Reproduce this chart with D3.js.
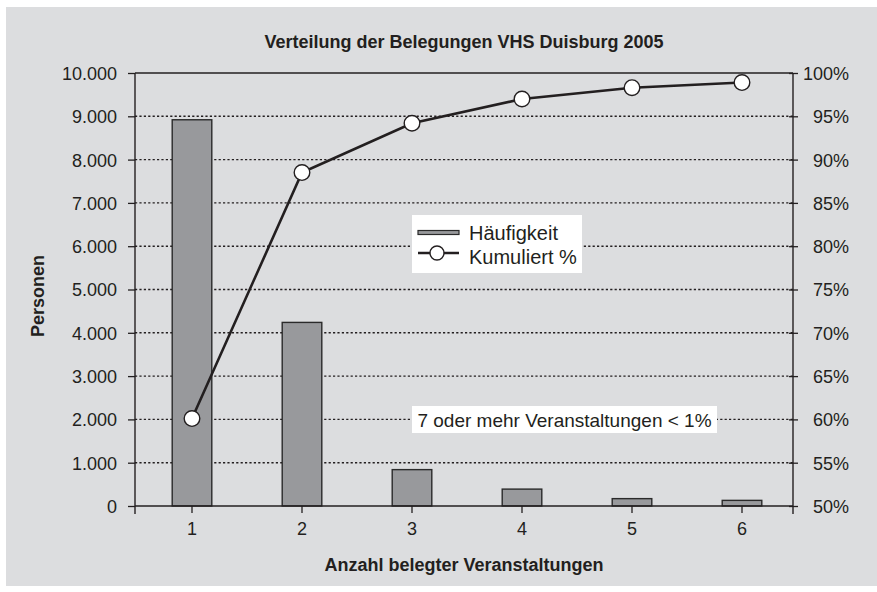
<!DOCTYPE html>
<html><head><meta charset="utf-8">
<script src="https://cdn.jsdelivr.net/npm/d3@7"></script>
<style>
html,body{margin:0;padding:0;background:#fff;}
svg text{font-family:"Liberation Sans Narrow","Arial Narrow","Liberation Sans",sans-serif;fill:#231f20;}
</style></head>
<body><svg id="c" width="877" height="592"></svg>
<script>
const title = "Verteilung der Belegungen VHS Duisburg 2005";
const categories = ["1","2","3","4","5","6"];
const haeufigkeit = [8920, 4240, 840, 390, 170, 130];
const kumuliert = [60.1, 88.5, 94.2, 97.0, 98.3, 98.9];
const leftTicks = [0,1000,2000,3000,4000,5000,6000,7000,8000,9000,10000];
const rightTicks = [50,55,60,65,70,75,80,85,90,95,100];
const seriesNames = ["Häufigkeit","Kumuliert %"];
const note = "7 oder mehr Veranstaltungen < 1%";
const xTitle = "Anzahl belegter Veranstaltungen";
const yTitle = "Personen";

const de = d3.formatLocale({decimal:",", thousands:".", grouping:[3], currency:["","€"]});
const fmt = de.format(",");

const svg = d3.select("#c");
const L = 135, R = 793, T = 73, B = 506;
const dark = "#231f20";

svg.append("rect").attr("x",6).attr("y",7).attr("width",871).attr("height",579).attr("fill","#dcdddf");

const x = d3.scaleBand().domain(categories).range([137,797]).paddingInner(0.64).paddingOuter(0.32);
const yL = d3.scaleLinear().domain([0,10000]).range([B,T]);
const yR = d3.scaleLinear().domain([50,100]).range([B,T]);

// gridlines
svg.append("g").selectAll("line").data(leftTicks.filter(d=>d>0 && d<10000)).join("line")
  .attr("x1",L).attr("x2",R).attr("y1",d=>yL(d)).attr("y2",d=>yL(d))
  .attr("stroke",dark).attr("stroke-width",1.4).attr("stroke-dasharray","2.2,2.2");
// top frame line
svg.append("line").attr("x1",L).attr("x2",R).attr("y1",T).attr("y2",T).attr("stroke",dark).attr("stroke-width",1.3);

// legend and note boxes (over gridlines)
svg.append("rect").attr("x",412).attr("y",215).attr("width",170).attr("height",58).attr("fill","#fff");
const noteG = svg.append("g");
noteG.append("rect").attr("x",412).attr("y",406).attr("width",305).attr("height",27).attr("fill","#fff");
noteG.append("text").attr("x",564.5).attr("y",427).attr("text-anchor","middle").attr("font-size",19).text(note);

// bars
svg.append("g").selectAll("rect").data(haeufigkeit).join("rect")
  .attr("x",(d,i)=>x(categories[i])).attr("width",x.bandwidth())
  .attr("y",d=>yL(d)).attr("height",d=>B-yL(d))
  .attr("fill","#98999c").attr("stroke","#2a2a2a").attr("stroke-width",1.4);

// left axis
const ay = d3.axisLeft(yL).tickValues(leftTicks).tickFormat(fmt).tickSize(7).tickPadding(11);
const gL = svg.append("g").attr("transform",`translate(${L},0)`).call(ay);
gL.select(".domain").remove();
gL.selectAll(".tick line").attr("stroke",dark).attr("stroke-width",1.3);
gL.selectAll("text").attr("font-size",18).attr("fill",dark).attr("font-family",null).attr("dy","0.36em");
svg.append("line").attr("x1",L).attr("x2",L).attr("y1",T).attr("y2",B+8).attr("stroke",dark).attr("stroke-width",1.4);

// right axis
const ar = d3.axisRight(yR).tickValues(rightTicks).tickFormat(d=>d+"%").tickSize(5).tickPadding(0);
const gR = svg.append("g").attr("transform",`translate(${R},0)`).call(ar);
gR.select(".domain").remove();
gR.selectAll(".tick line").attr("x1",-4).attr("stroke",dark).attr("stroke-width",1.3);
gR.selectAll("text").attr("x",56).attr("text-anchor","end").attr("font-size",18).attr("fill",dark).attr("font-family",null).attr("dy","0.36em");
svg.append("line").attr("x1",R).attr("x2",R).attr("y1",T).attr("y2",B+8).attr("stroke",dark).attr("stroke-width",1.4);

// bottom axis
const ax = d3.axisBottom(x).tickSize(7).tickPadding(9);
const gB = svg.append("g").attr("transform",`translate(0,${B})`).call(ax);
gB.select(".domain").remove();
gB.selectAll(".tick line").attr("stroke",dark).attr("stroke-width",1.3);
gB.selectAll("text").attr("font-size",18).attr("fill",dark).attr("font-family",null);
svg.append("line").attr("x1",L).attr("x2",R).attr("y1",B).attr("y2",B).attr("stroke",dark).attr("stroke-width",1.4);

// cumulative line
const cx = (d,i)=>x(categories[i])+x.bandwidth()/2;
svg.append("path").datum(kumuliert)
  .attr("d", d3.line().x(cx).y(d=>yR(d)))
  .attr("fill","none").attr("stroke",dark).attr("stroke-width",2.6);
svg.append("g").selectAll("circle").data(kumuliert).join("circle")
  .attr("cx",cx).attr("cy",d=>yR(d)).attr("r",7.8)
  .attr("fill","#fff").attr("stroke",dark).attr("stroke-width",1.4);

// legend contents
svg.append("rect").attr("x",418).attr("y",230.5).attr("width",41).attr("height",4)
  .attr("fill","#98999c").attr("stroke","#2a2a2a").attr("stroke-width",1.2);
svg.append("line").attr("x1",418).attr("x2",459).attr("y1",253).attr("y2",253).attr("stroke",dark).attr("stroke-width",2.6);
svg.append("circle").attr("cx",437).attr("cy",253).attr("r",7).attr("fill","#fff").attr("stroke",dark).attr("stroke-width",1.4);
svg.append("text").attr("x",469).attr("y",240).attr("font-size",20).text(seriesNames[0]);
svg.append("text").attr("x",469).attr("y",264).attr("font-size",20).text(seriesNames[1]);

// titles
svg.append("text").attr("x",464).attr("y",48).attr("text-anchor","middle").attr("font-size",18).attr("font-weight","bold").text(title);
svg.append("text").attr("x",464).attr("y",571).attr("text-anchor","middle").attr("font-size",18).attr("font-weight","bold").text(xTitle);
svg.append("text").attr("transform","translate(44,296) rotate(-90)").attr("text-anchor","middle").attr("font-size",18).attr("font-weight","bold").text(yTitle);
</script></body></html>
